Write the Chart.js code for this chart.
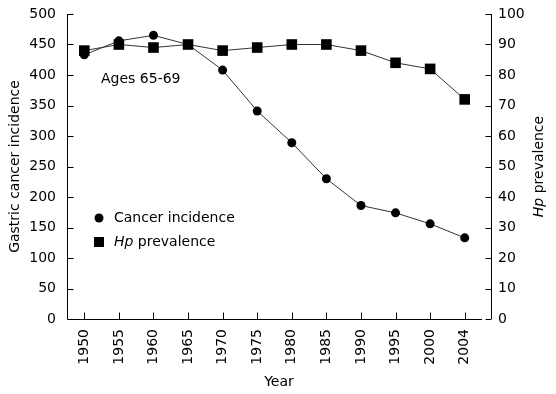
<!DOCTYPE html>
<html>
<head>
<meta charset="utf-8">
<script src="https://cdn.jsdelivr.net/npm/chart.js@4/dist/chart.umd.min.js"></script>
<style>
  html, body { margin: 0; padding: 0; background: #fff; }
</style>
</head>
<body>
<canvas id="myChart" width="556" height="394"></canvas>
<script>
// data
const years = ["1950", "1955", "1960", "1965", "1970", "1975", "1980", "1985", "1990", "1995", "2000", "2004"];
const cancerIncidence = [433, 456, 465, 450, 408, 341, 289, 230, 186, 174, 156, 133];
const hpPrevalence = [88, 90, 89, 90, 88, 89, 90, 90, 88, 84, 82, 72];
const leftTicks = [0, 50, 100, 150, 200, 250, 300, 350, 400, 450, 500];
const rightTicks = [0, 10, 20, 30, 40, 50, 60, 70, 80, 90, 100];

const FONT = "DejaVu Sans";
const FS = 14;
Chart.defaults.font.family = FONT;
Chart.defaults.font.size = FS;
Chart.defaults.color = "#000";

// axis lines + inward tick marks, titles with italic Hp, legend, note
const decor = {
  id: "decor",
  afterDraw(chart) {
    const ctx = chart.ctx;
    const area = chart.chartArea;
    const xs = chart.scales.x, yl = chart.scales.y, yr = chart.scales.y1;
    ctx.save();
    ctx.strokeStyle = "#000";
    ctx.lineWidth = 1;
    ctx.beginPath();
    // left axis
    const lx = Math.round(area.left) + 0.5;
    ctx.moveTo(lx, yl.getPixelForValue(500));
    ctx.lineTo(lx, yl.getPixelForValue(0));
    leftTicks.forEach(v => {
      const y = Math.round(yl.getPixelForValue(v)) + 0.5;
      ctx.moveTo(lx, y); ctx.lineTo(lx + 6, y);
    });
    // bottom axis
    const by = Math.round(yl.getPixelForValue(0)) + 0.5;
    ctx.moveTo(lx, by);
    ctx.lineTo(xs.getPixelForValue(years.length - 0.5), by);
    years.forEach((_, i) => {
      const x = Math.round(xs.getPixelForValue(i)) + 0.5;
      ctx.moveTo(x, by); ctx.lineTo(x, by - 7);
    });
    // right axis
    const rx = Math.round(area.right) + 0.5;
    ctx.moveTo(rx, yr.getPixelForValue(100));
    ctx.lineTo(rx, yr.getPixelForValue(0));
    rightTicks.forEach(v => {
      const y = Math.round(yr.getPixelForValue(v)) + 0.5;
      ctx.moveTo(rx, y); ctx.lineTo(rx - 6, y);
    });
    ctx.stroke();

    ctx.fillStyle = "#000";
    ctx.textBaseline = "middle";
    ctx.textAlign = "left";

    // mixed italic text helper
    function mixed(parts, x, y) {
      let cx = x;
      parts.forEach(p => {
        ctx.font = (p.italic ? "italic " : "") + FS + "px '" + FONT + "'";
        ctx.fillText(p.t, cx, y);
        cx += ctx.measureText(p.t).width;
      });
    }
    function mixedWidth(parts) {
      let w = 0;
      parts.forEach(p => {
        ctx.font = (p.italic ? "italic " : "") + FS + "px '" + FONT + "'";
        w += ctx.measureText(p.t).width;
      });
      return w;
    }

    const hpTitle = [{ t: "Hp", italic: true }, { t: " prevalence" }];
    ctx.save();
    ctx.translate(539, (area.top + area.bottom) / 2);
    ctx.rotate(-Math.PI / 2);
    mixed(hpTitle, -mixedWidth(hpTitle) / 2, 0);
    ctx.restore();

    // note
    ctx.font = FS + "px '" + FONT + "'";
    ctx.fillText("Ages 65-69", 101, 79);

    // legend
    ctx.beginPath();
    ctx.arc(99, 218, 4.5, 0, Math.PI * 2);
    ctx.fill();
    ctx.fillText("Cancer incidence", 114, 218);
    ctx.fillRect(94, 237, 10, 10);
    mixed(hpTitle, 114, 242);
    ctx.restore();
  }
};

// keep the plot box fixed, ignore label overhang
function noPad(s) { s.paddingTop = 0; s.paddingBottom = 0; }

const ctx = document.getElementById("myChart").getContext("2d");
const myChart = new Chart(ctx, {
  type: "line",
  data: {
    datasets: [
      {
        label: "Hp prevalence",
        data: hpPrevalence.map((v, i) => ({ x: i, y: v })),
        yAxisID: "y1",
        borderColor: "#333",
        borderWidth: 1,
        pointStyle: "rect",
        pointRadius: 7.5,
        pointBackgroundColor: "#000",
        pointBorderColor: "#000",
        pointBorderWidth: 0
      },
      {
        label: "Cancer incidence",
        data: cancerIncidence.map((v, i) => ({ x: i, y: v })),
        yAxisID: "y",
        borderColor: "#333",
        borderWidth: 1,
        pointStyle: "circle",
        pointRadius: 4.5,
        pointBackgroundColor: "#000",
        pointBorderColor: "#000",
        pointBorderWidth: 0
      }
    ]
  },
  options: {
    responsive: false,
    animation: false,
    layout: { padding: { top: 14, left: 0, right: 0, bottom: 0 } },
    plugins: { legend: { display: false }, tooltip: { enabled: false } },
    scales: {
      x: {
        type: "linear",
        min: -0.5,
        max: 11.76,
        afterBuildTicks: s => { s.ticks = years.map((_, i) => ({ value: i })); },
        afterFit: s => { s.height = 75; s.paddingLeft = 0; s.paddingRight = 0; },
        grid: { display: false, drawTicks: false },
        border: { display: false },
        ticks: {
          autoSkip: false,
          minRotation: 90,
          maxRotation: 90,
          padding: 10,
          callback: v => years[v]
        },
        title: { display: true, text: "Year", padding: { top: 4, bottom: 3 } }
      },
      y: {
        position: "left",
        min: 0,
        max: 500,
        afterBuildTicks: s => { s.ticks = leftTicks.map(v => ({ value: v })); },
        afterFit: s => { s.width = 67; noPad(s); },
        grid: { display: false, drawTicks: false },
        border: { display: false },
        ticks: { padding: 11 },
        title: { display: true, text: "Gastric cancer incidence", padding: { top: 7, bottom: 0 } }
      },
      y1: {
        position: "right",
        min: 0,
        max: 100,
        afterBuildTicks: s => { s.ticks = rightTicks.map(v => ({ value: v })); },
        afterFit: s => { s.width = 65; noPad(s); },
        grid: { display: false, drawTicks: false },
        border: { display: false },
        ticks: { padding: 7 }
      }
    }
  },
  plugins: [decor]
});
</script>
</body>
</html>
